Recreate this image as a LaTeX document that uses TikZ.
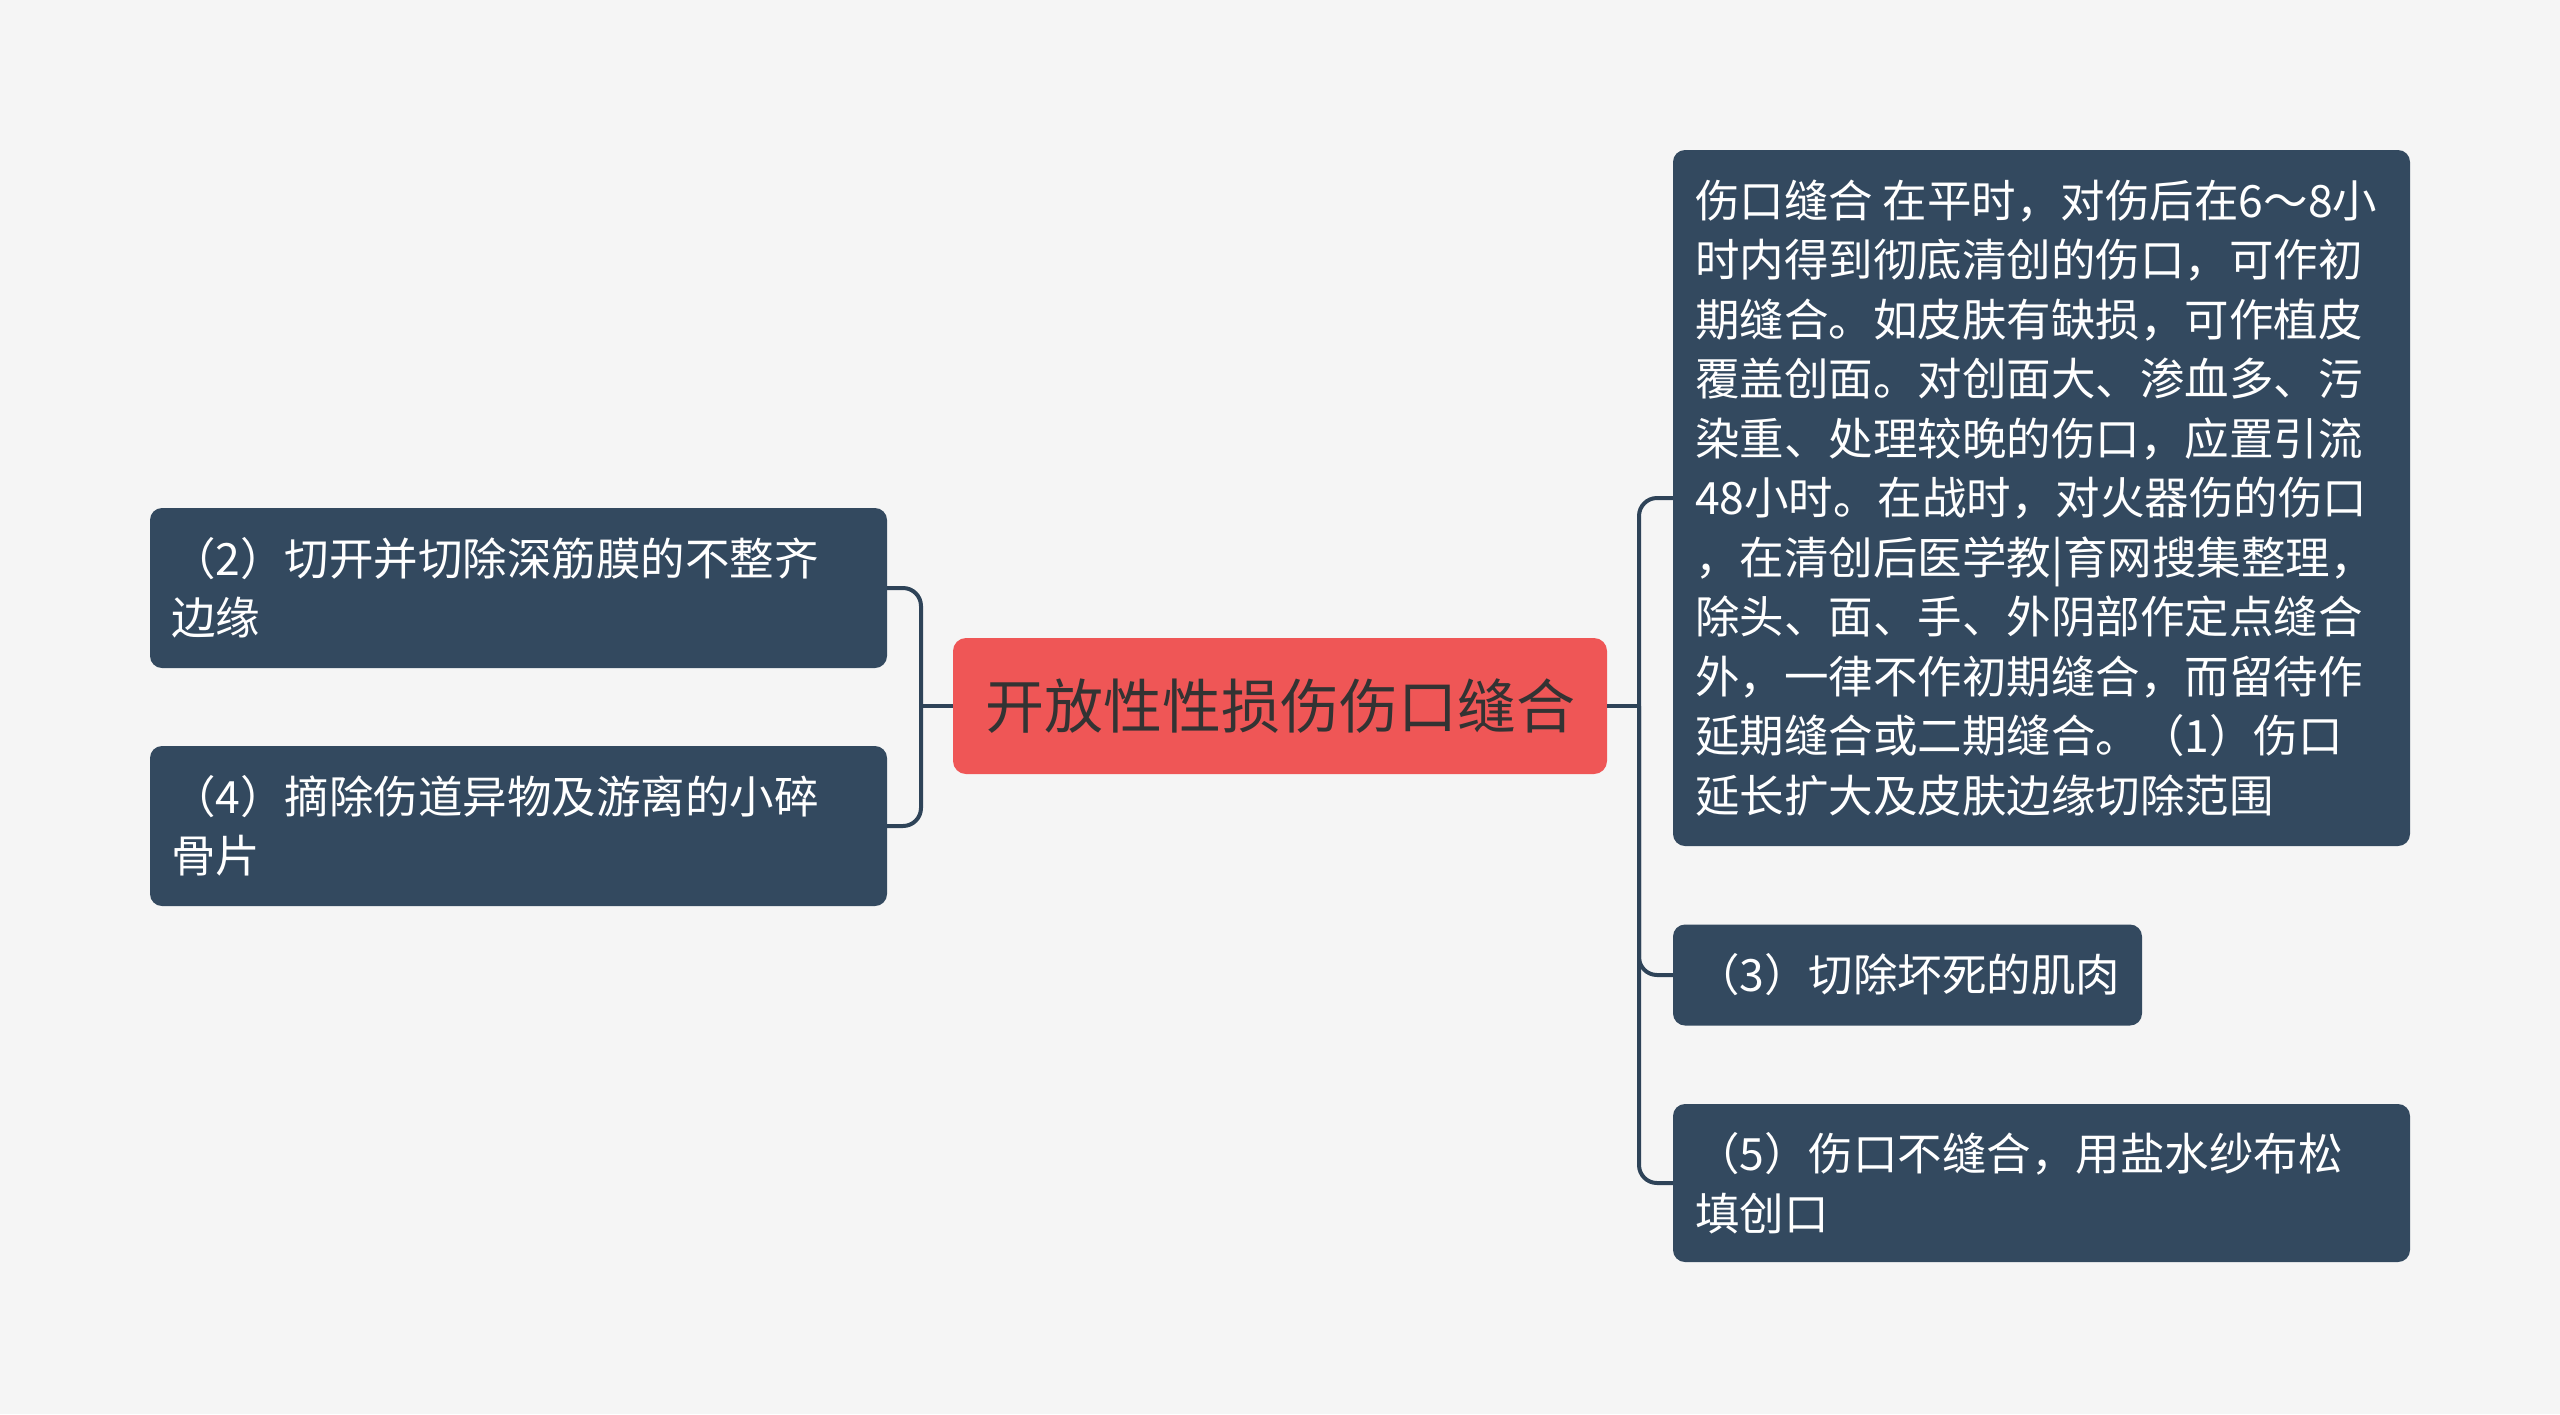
\documentclass[tikz,border=0pt]{standalone}
\usepackage{fontspec}
\newfontfamily\cjk{Noto Sans CJK SC}
\definecolor{bgc}{HTML}{F5F5F5}
\definecolor{boxc}{HTML}{33495F}
\definecolor{linec}{HTML}{2E4358}
\definecolor{rootc}{HTML}{EF5656}
\definecolor{roottext}{HTML}{333333}
\tikzset{
  leafbox/.style={fill=boxc, rounded corners=12pt, inner sep=0pt},
  leaftext/.style={font=\cjk\fontsize{44.5}{59.5}\selectfont, text=white, inner sep=0pt, align=left},
  rootbox/.style={fill=rootc, rounded corners=13pt, inner sep=0pt, font=\cjk\fontsize{59}{70}\selectfont, text=roottext},
  conn/.style={draw=linec, line width=4pt, rounded corners=18pt}
}
\begin{document}
\begin{tikzpicture}[x=1pt,y=-1pt]
\fill[bgc] (0,0) rectangle (2560,1414);
\useasboundingbox (0,0) rectangle (2560,1414);

% root
\node[rootbox, minimum width=654pt, minimum height=136pt] (c) at (1280,706) {开放性性损伤伤口缝合};

% left boxes
\node[leafbox, minimum width=737pt, minimum height=160pt] (b2) at (518.5,588) {};
\node[leaftext, anchor=west] (t2) at ([xshift=21pt]b2.west) {（2）切开并切除深筋膜的不整齐\\边缘};
\node[leafbox, minimum width=737pt, minimum height=160pt] (b4) at (518.5,826) {};
\node[leaftext, anchor=west] (t4) at ([xshift=21pt]b4.west) {（4）摘除伤道异物及游离的小碎\\骨片};

% right boxes
\node[leafbox, minimum width=737pt, minimum height=696pt] (r1) at (2041.5,498) {};
\node[leaftext, anchor=west] (t1) at ([xshift=22pt]r1.west) {伤口缝合 在平时，对伤后在6～8小\\时内得到彻底清创的伤口，可作初\\期缝合。如皮肤有缺损，可作植皮\\覆盖创面。对创面大、渗血多、污\\染重、处理较晚的伤口，应置引流\\48小时。在战时，对火器伤的伤口\\，在清创后医学教|育网搜集整理，\\除头、面、手、外阴部作定点缝合\\外，一律不作初期缝合，而留待作\\延期缝合或二期缝合。（1）伤口\\延长扩大及皮肤边缘切除范围};
\node[leafbox, minimum width=469pt, minimum height=101pt] (r3) at (1907.5,975) {};
\node[leaftext, anchor=west] (t3) at ([xshift=22pt]r3.west) {（3）切除坏死的肌肉};
\node[leafbox, minimum width=737pt, minimum height=158pt] (r5) at (2041.5,1183) {};
\node[leaftext, anchor=west] (t5) at ([xshift=22pt]r5.west) {（5）伤口不缝合，用盐水纱布松\\填创口};

% junctions
\coordinate (jl) at (921,706);
\coordinate (jr) at (1639,706);

% connectors
\draw[conn] (c.west) -- (jl);
\draw[conn] (b2.east) -| (jl) |- (b4.east);
\draw[conn] (c.east) -- (jr);
\draw[conn] (r1.west) -| (jr) |- (r5.west);
\draw[conn] (jr) |- (r3.west);
\end{tikzpicture}
\end{document}
